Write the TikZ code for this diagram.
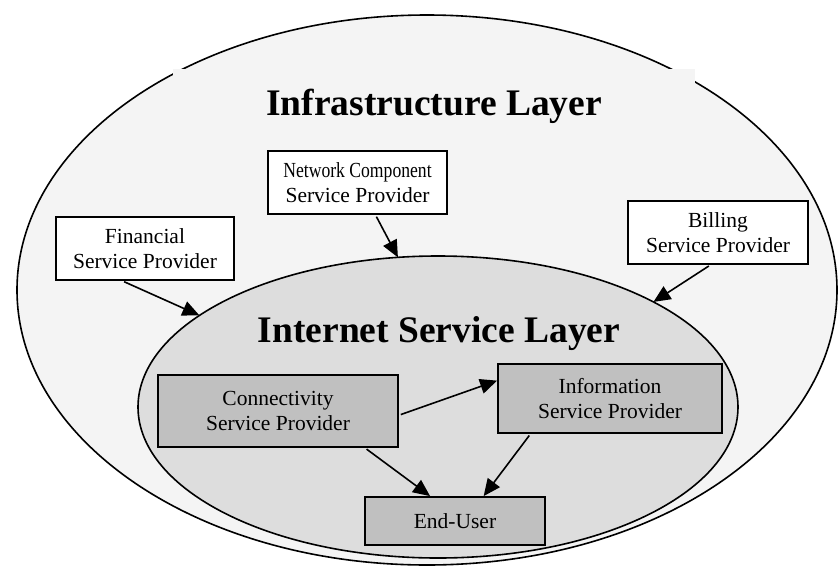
\documentclass[tikz,border=0pt]{standalone}
\usepackage{fontspec}
\setmainfont{Liberation Serif}
\usepackage{tikz}
\usetikzlibrary{shapes.geometric, arrows.meta}

\definecolor{outerfill}{HTML}{F4F4F4}
\definecolor{innerfill}{HTML}{DDDDDD}
\definecolor{boxfill}{HTML}{C0C0C0}

\begin{document}
\begin{tikzpicture}[x=1pt, y=-1pt,
    layer/.style={ellipse, draw, line width=1.6pt, inner sep=0pt, outer sep=0pt},
    provider/.style={rectangle, draw, line width=1.8pt, fill=white, align=center,
      inner sep=0pt, font=\fontsize{21.5}{25}\selectfont},
    inside/.style={provider, fill=boxfill},
    title/.style={inner sep=0pt, font=\fontsize{37.5}{40}\selectfont\bfseries},
    link/.style={-{Triangle[length=17pt, width=15pt]}, line width=1.6pt, shorten <=2pt}]
  \useasboundingbox (0,0) rectangle (839,566);

  % Layers
  \node[layer, fill=outerfill, minimum width=820pt, minimum height=550pt] (infra) at (427,290) {};
  \node[title, fill=outerfill, anchor=base, minimum width=522pt, text height=46pt]
    (infratitle) at (434,115) {Infrastructure Layer};
  \node[layer, fill=innerfill, minimum width=600pt, minimum height=302pt] (isl) at (438,407) {};
  \node[title, anchor=base] (isltitle) at (439,342) {Internet Service Layer};

  % Outside providers
  \node[provider, minimum width=178pt, minimum height=63pt] (fin) at (145,248.5)
    {Financial\\Service Provider};
  \node[provider, minimum width=179pt, minimum height=63pt] (ncp) at (357.5,182.5)
    {\scalebox{0.82}[1]{Network Component}\\Service Provider};
  \node[provider, minimum width=180pt, minimum height=63pt] (bil) at (718,232.5)
    {Billing\\Service Provider};

  % Inside providers
  \node[inside, minimum width=240pt, minimum height=72pt] (con) at (278,411)
    {Connectivity\\Service Provider};
  \node[inside, minimum width=224pt, minimum height=69pt] (inf) at (610,398.5)
    {Information\\Service Provider};
  \node[inside, minimum width=180pt, minimum height=48pt] (eu) at (455,521) {End-User};

  % Arrows
  \draw[link] (fin.235) -- (isl.159);
  \draw[link] (ncp.-61) -- (isl.105);
  \draw[link] (bil.257) -- (isl.26);
  \draw[link] (con.-2) -- (inf.171);
  \draw[link] (con.-23) -- (eu.135);
  \draw[link] (inf.204) -- (eu.41);
\end{tikzpicture}
\end{document}
